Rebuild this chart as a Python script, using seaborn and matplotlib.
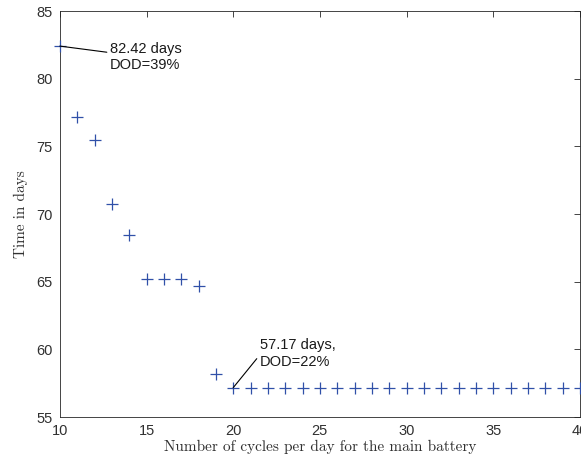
import matplotlib
matplotlib.use('Agg')
import matplotlib.pyplot as plt
import pandas as pd
import seaborn as sns

# Data
cycles = list(range(10, 41))
days = [82.42, 77.17, 75.47, 70.74, 68.44, 65.2, 65.2, 65.2, 64.67, 58.17] + [57.17] * 21

df = pd.DataFrame({'cycles': cycles, 'days': days})

sns.set_theme(style='white')
plt.rcParams['font.family'] = ['Liberation Sans', 'DejaVu Sans']

fig = plt.figure(figsize=(5.81, 4.66), dpi=100)
ax = fig.add_axes([0.103, 0.105, 0.895, 0.871])

sns.scatterplot(data=df, x='cycles', y='days', marker='+', s=72,
                color='#3050a8', linewidth=0.9, ax=ax, clip_on=False, zorder=3)

ax.set_xlim(10, 40)
ax.set_ylim(55, 85)
ax.set_xticks([10, 15, 20, 25, 30, 35, 40])
ax.set_yticks([55, 60, 65, 70, 75, 80, 85])

# MATLAB-like box with inward ticks
for s in ax.spines.values():
    s.set_color('#262626')
    s.set_linewidth(0.6)
ax.tick_params(direction='in', top=True, right=True, length=4, width=0.6,
               labelsize=10.5, colors='#262626', pad=5)
ax.tick_params(labelcolor='#303030')

ax.set_xlabel('Number of cycles per day for the main battery', family='cmr10',
              fontsize=11, color='#303030', labelpad=1)
ax.set_ylabel('Time in days', family='cmr10', fontsize=11, color='#303030', labelpad=6)

# Annotations
ax.annotate('82.42 days\nDOD=39%', xy=(10, 82.42), xytext=(12.9, 81.6),
            fontsize=10.5, color='#1a1a1a', va='center', ha='left',
            arrowprops=dict(arrowstyle='-', color='black', lw=0.8,
                            shrinkA=0, shrinkB=0, relpos=(0, 0.65)))
ax.annotate('57.17 days,\nDOD=22%', xy=(20, 57.17), xytext=(21.55, 59.7),
            fontsize=10.5, color='#1a1a1a', va='center', ha='left',
            arrowprops=dict(arrowstyle='-', color='black', lw=0.8,
                            shrinkA=0, shrinkB=0, relpos=(-0.02, 0.4)))

plt.savefig('out.png', dpi=100)
